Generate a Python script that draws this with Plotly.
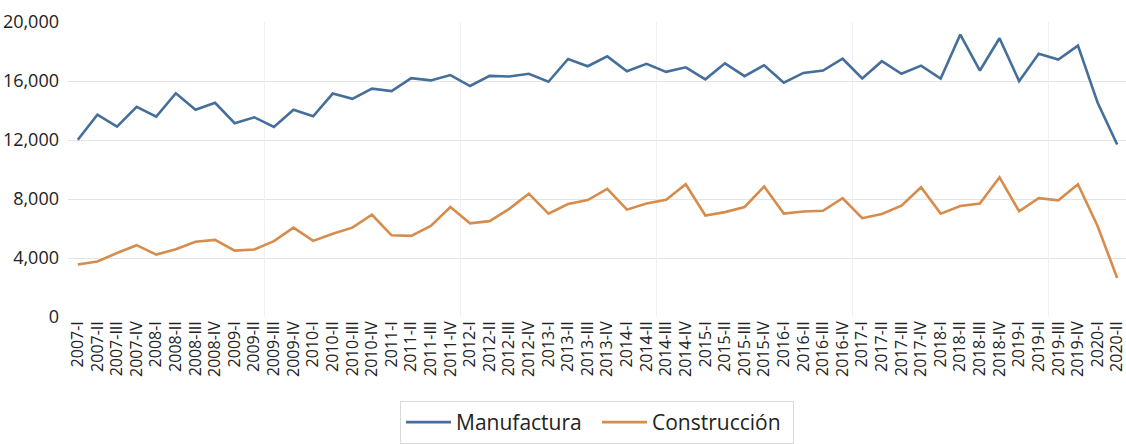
import plotly.graph_objects as go

years = list(range(2007, 2021))
quarters = ["I", "II", "III", "IV"]
categories = [f"{y}-{q}" for y in years for q in quarters][:54]

manufactura = [
    12020, 13720, 12910, 14250, 13580, 15170, 14050, 14520,
    13140, 13540, 12890, 14050, 13610, 15150, 14790, 15480,
    15320, 16190, 16040, 16400, 15660, 16350, 16310, 16490,
    15950, 17490, 17000, 17670, 16660, 17160, 16620, 16930,
    16110, 17200, 16330, 17070, 15880, 16550, 16710, 17510,
    16170, 17340, 16490, 17040, 16170, 19150, 16710, 18900,
    15990, 17850, 17450, 18400, 14540, 11690,
]
construccion = [
    3560, 3760, 4340, 4870, 4230, 4600, 5100, 5230,
    4500, 4580, 5140, 6060, 5160, 5650, 6060, 6930,
    5540, 5500, 6170, 7460, 6350, 6500, 7330, 8360,
    7010, 7660, 7930, 8690, 7280, 7690, 7950, 9000,
    6880, 7110, 7460, 8850, 7010, 7150, 7200, 8050,
    6700, 6990, 7550, 8800, 7010, 7530, 7690, 9470,
    7170, 8060, 7910, 9000, 6170, 2640,
]
series_names = ["Manufactura", "Construcción"]
series_colors = ["#456f9a", "#d68c4c"]
y_ticks = [0, 4000, 8000, 12000, 16000, 20000]

fig = go.Figure()
for name, vals, col in zip(series_names, [manufactura, construccion], series_colors):
    fig.add_trace(go.Scatter(
        x=categories, y=vals, mode="lines", name=name,
        line=dict(color=col, width=2.6),
    ))

# faint vertical gridlines between category groups (every 10 quarters)
fig.add_trace(go.Scatter(x=[None], y=[None], xaxis="x2", showlegend=False, hoverinfo="skip"))

fig.update_layout(
    width=1126, height=444,
    margin=dict(l=68, r=0, t=22, b=124),
    paper_bgcolor="white", plot_bgcolor="white",
    font=dict(family="Open Sans", color="#333333"),
    xaxis=dict(
        type="category", range=[-0.5, 53.45],
        tickangle=-90, tickfont=dict(size=16, color="#222222"),
        showgrid=False, showline=False, ticks="", zeroline=False,
    ),
    xaxis2=dict(
        overlaying="x", range=[-0.5, 53.45], tick0=9.5, dtick=10,
        showgrid=True, gridcolor="#f0f0f0", gridwidth=1,
        showticklabels=False, ticks="", zeroline=False, side="bottom",
    ),
    yaxis=dict(
        range=[0, 20000], tickvals=y_ticks, tickformat=",",
        tickfont=dict(size=18, color="#222222"), ticklabelstandoff=8,
        showgrid=True, gridcolor="#e4e4e4", gridwidth=1,
        zeroline=False, showline=False, ticks="",
    ),
    legend=dict(
        orientation="h", x=0.5, xanchor="center", y=-0.285, yanchor="top",
        font=dict(size=21, color="#222222"), itemwidth=45, entrywidth=136,
        bordercolor="#d9d9d9", borderwidth=1, bgcolor="white",
    ),
)

fig.write_html("out.html", post_script="document.body.style.margin='0';",
               config={"displayModeBar": False})
